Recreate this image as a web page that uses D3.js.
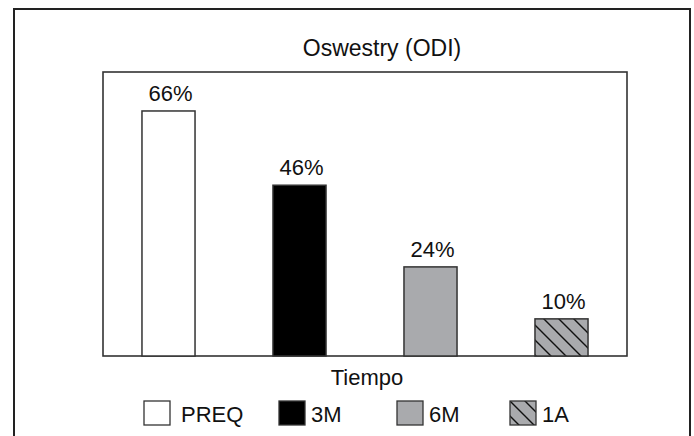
<!DOCTYPE html>
<html>
<head>
<meta charset="utf-8">
<script src="https://cdn.jsdelivr.net/npm/d3@7"></script>
<style>
  html, body { margin: 0; padding: 0; background: #fff; }
  svg { display: block; }
  text { font-family: "Liberation Sans", Arial, Helvetica, sans-serif; fill: #111; }
</style>
</head>
<body>
<svg id="chart" width="694" height="436"></svg>
<script>
// ---- data ----
const categories = ["PREQ", "3M", "6M", "1A"];
const values = [66, 46, 24, 10];
const valueLabels = ["66%", "46%", "24%", "10%"];
const title = "Oswestry (ODI)";
const xTitle = "Tiempo";

// ---- layout ----
const W = 694, H = 436;
const plot = { left: 103, right: 627, top: 72, bottom: 356 };
const svg = d3.select("#chart");

const fills = { "PREQ": "#ffffff", "3M": "#000000", "6M": "#a9aaad", "1A": "url(#hatch)" };

const defs = svg.append("defs");
const pat = defs.append("pattern")
  .attr("id", "hatch")
  .attr("patternUnits", "userSpaceOnUse")
  .attr("width", 15).attr("height", 15);
pat.append("rect").attr("width", 15).attr("height", 15).attr("fill", "#a9aaad");
pat.append("path")
  .attr("d", "M0,0L15,15M-15,0L15,30M0,-15L30,15")
  .attr("stroke", "#111").attr("stroke-width", 1.4);

// outer frame
svg.append("rect")
  .attr("x", 14).attr("y", 9).attr("width", 676).attr("height", 460)
  .attr("fill", "none").attr("stroke", "#222").attr("stroke-width", 2);

// title
svg.append("text")
  .attr("x", 382).attr("y", 56)
  .attr("text-anchor", "middle").attr("font-size", 23)
  .text(title);

// scales
const x = d3.scaleBand()
  .domain(categories)
  .range([plot.left, plot.right])
  .paddingInner(0.595).paddingOuter(0.2975);
const y = d3.scaleLinear().domain([0, 76.5]).range([plot.bottom, plot.top]);

// plot frame
svg.append("rect")
  .attr("x", plot.left).attr("y", plot.top)
  .attr("width", plot.right - plot.left).attr("height", plot.bottom - plot.top)
  .attr("fill", "none").attr("stroke", "#333").attr("stroke-width", 1.6);

const rows = categories.map((c, i) => ({ c, v: values[i], l: valueLabels[i] }));

// bars
svg.selectAll("rect.bar")
  .data(rows)
  .join("rect")
  .attr("class", "bar")
  .attr("x", d => x(d.c))
  .attr("y", d => y(d.v))
  .attr("width", x.bandwidth())
  .attr("height", d => y(0) - y(d.v))
  .attr("fill", d => fills[d.c])
  .attr("stroke", "#333").attr("stroke-width", 1.5);

// value labels
svg.selectAll("text.vlab")
  .data(rows)
  .join("text")
  .attr("class", "vlab")
  .attr("x", d => x(d.c) + x.bandwidth() / 2 + 2)
  .attr("y", d => y(d.v) - 10)
  .attr("text-anchor", "middle").attr("font-size", 22)
  .text(d => d.l);

// axis title
svg.append("text")
  .attr("x", 367).attr("y", 385)
  .attr("text-anchor", "middle").attr("font-size", 22)
  .text(xTitle);

// legend
const legendX = [144, 279, 397, 510];
const lg = svg.selectAll("g.leg")
  .data(categories)
  .join("g")
  .attr("class", "leg")
  .attr("transform", (d, i) => `translate(${legendX[i]},401)`);
lg.append("rect")
  .attr("width", 26).attr("height", 24)
  .attr("fill", d => fills[d])
  .attr("stroke", "#333").attr("stroke-width", 1.3);
lg.append("text")
  .attr("x", (d, i) => i === 0 ? 37 : 32)
  .attr("y", 21)
  .attr("font-size", 22)
  .text(d => d);
</script>
</body>
</html>
